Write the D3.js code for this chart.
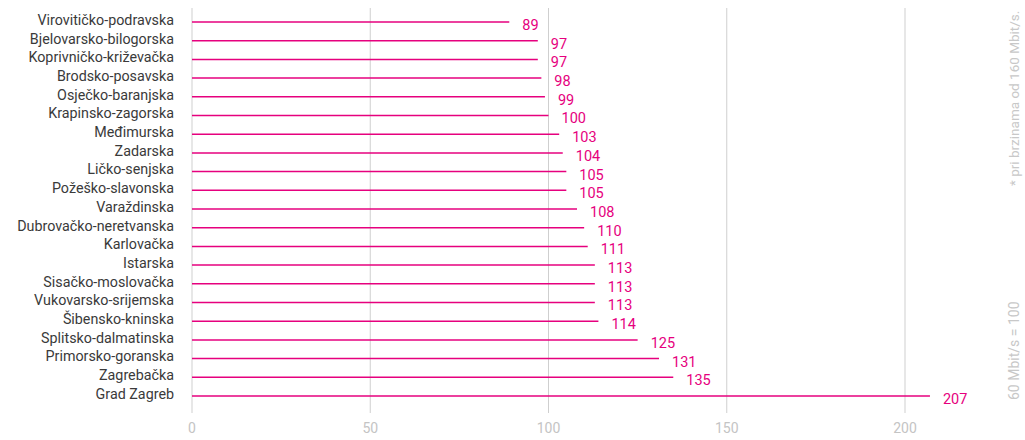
<!DOCTYPE html>
<html>
<head>
<meta charset="utf-8">
<script src="https://cdn.jsdelivr.net/npm/d3@7"></script>
<style>
  body { margin: 0; background: #fff; }
  svg { font-family: Roboto, "Noto Sans", sans-serif; }
</style>
</head>
<body>
<div id="chart"></div>
<script>
const counties = [
  "Virovitičko-podravska", "Bjelovarsko-bilogorska", "Koprivničko-križevačka",
  "Brodsko-posavska", "Osječko-baranjska", "Krapinsko-zagorska", "Međimurska",
  "Zadarska", "Ličko-senjska", "Požeško-slavonska", "Varaždinska",
  "Dubrovačko-neretvanska", "Karlovačka", "Istarska", "Sisačko-moslovačka",
  "Vukovarsko-srijemska", "Šibensko-kninska", "Splitsko-dalmatinska",
  "Primorsko-goranska", "Zagrebačka", "Grad Zagreb"
];
const values = [89, 97, 97, 98, 99, 100, 103, 104, 105, 105, 108, 110, 111, 113, 113, 113, 114, 125, 131, 135, 207];
const xTicks = [0, 50, 100, 150, 200];
const notes = ["* pri brzinama od 160 Mbit/s.", "60 Mbit/s = 100"];

const width = 1025, height = 440;
const magenta = "#e6007e";

const svg = d3.select("#chart").append("svg")
  .attr("width", width)
  .attr("height", height);

const x = d3.scaleLinear().domain([0, 200]).range([192, 905]);
const y = d3.scalePoint().domain(counties).range([22, 396]);

// grid lines
svg.append("g")
  .selectAll("line")
  .data(xTicks)
  .join("line")
  .attr("x1", d => x(d)).attr("x2", d => x(d))
  .attr("y1", 8).attr("y2", 413)
  .attr("stroke", "#cfcfcf")
  .attr("stroke-width", 1);

// tick labels
svg.append("g")
  .selectAll("text")
  .data(xTicks)
  .join("text")
  .attr("x", d => x(d))
  .attr("y", 433)
  .attr("text-anchor", "middle")
  .attr("font-size", "14px")
  .attr("fill", "#c4c4c4")
  .text(d => d);

const rows = svg.append("g")
  .selectAll("g")
  .data(counties)
  .join("g");

rows.append("text")
  .attr("x", 174)
  .attr("y", d => y(d))
  .attr("dy", "0.2em")
  .attr("text-anchor", "end")
  .attr("font-size", "14.3px")
  .attr("fill", "#3a3a3a")
  .text(d => d);

rows.append("line")
  .attr("x1", x(0))
  .attr("x2", (d, i) => x(values[i]))
  .attr("y1", d => y(d)).attr("y2", d => y(d))
  .attr("stroke", magenta)
  .attr("stroke-width", 1.5);

rows.append("text")
  .attr("x", (d, i) => x(values[i]) + 13)
  .attr("y", d => y(d))
  .attr("dy", "0.55em")
  .attr("font-size", "14.5px")
  .attr("fill", magenta)
  .text((d, i) => values[i]);

// side notes
svg.append("text")
  .attr("transform", "translate(1019,186) rotate(-90)")
  .attr("font-size", "13.5px")
  .attr("fill", "#c8c8c8")
  .text(notes[0]);

svg.append("text")
  .attr("transform", "translate(1019,400) rotate(-90)")
  .attr("font-size", "14px")
  .attr("fill", "#c8c8c8")
  .text(notes[1]);
</script>
</body>
</html>
